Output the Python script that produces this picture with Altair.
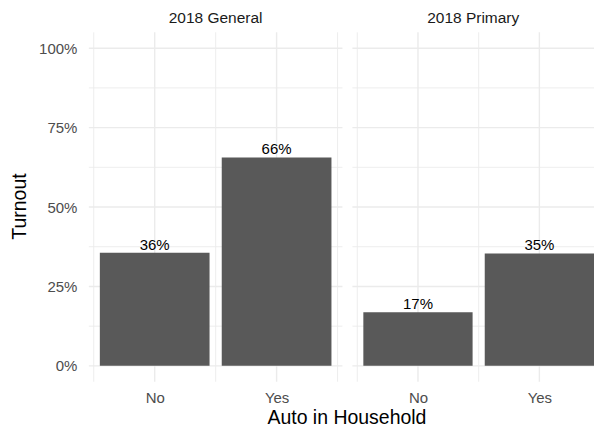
import json
import altair as alt
import pandas as pd

# ---- data ----
elections = ["2018 General", "2018 Primary"]
auto_levels = ["No", "Yes"]
election_col = ["2018 General", "2018 General", "2018 Primary", "2018 Primary"]
auto_col = ["No", "Yes", "No", "Yes"]
turnout = [0.356, 0.656, 0.169, 0.354]

y_major = [0, 0.25, 0.5, 0.75, 1.0]
y_minor = [0.125, 0.375, 0.625, 0.875]
x_major = [1, 2]
x_minor = [0.5, 1.5, 2.5]

FONT = "Liberation Sans"
BAR = "#595959"
GRID = "#EBEBEB"
TICK = "#4D4D4D"

df = pd.DataFrame({"election": election_col, "auto": auto_col, "turnout": turnout})
df["pos"] = df["auto"].map({k: i + 1 for i, k in enumerate(auto_levels)})

label_expr = json.dumps(auto_levels).replace('"', "'") + "[datum.value - 1]"

ymaj_df = pd.DataFrame({"v": y_major})
ymin_df = pd.DataFrame({"v": y_minor})
xmaj_df = pd.DataFrame({"v": x_major})

Y_DOMAIN = [-0.05, 1.05]
H = 350


def panel(name, xdom, width, first):
    xscale = alt.Scale(domain=xdom, nice=False, zero=False)
    yscale = alt.Scale(domain=Y_DOMAIN, nice=False, zero=False)
    xmin_df = pd.DataFrame({"v": [v for v in x_minor if xdom[0] <= v <= xdom[1]]})
    xaxis_kw = dict(values=x_major, labelExpr=label_expr, grid=False, domain=False,
                    ticks=False, tickSize=0, labelFontSize=15, labelColor=TICK,
                    labelFont=FONT, labelPadding=9, labelBaseline="top",
                    labelAlign="center")
    if first:
        xaxis_kw.update(title="Auto in Household", titleFont=FONT, titleFontSize=19.5,
                        titleFontWeight="normal", titleColor="#000000",
                        titleX=258, titleY=42, titleBaseline="alphabetic",
                        titleAlign="center", titleAnchor="start")
    else:
        xaxis_kw.update(title=None)
    xaxis = alt.Axis(**xaxis_kw)

    if first:
        yaxis = alt.Axis(values=y_major, format=".0%", grid=False, domain=False, ticks=False,
                         tickSize=0, labelFontSize=15, labelColor=TICK, labelFont=FONT,
                         labelPadding=12,
                         title="Turnout", titleFont=FONT, titleFontSize=19.5,
                         titleFontWeight="normal", titleColor="#000000",
                         titleX=-63, titleY=H / 2 - 1, titleAngle=270,
                         titleBaseline="alphabetic", titleAlign="center",
                         titleAnchor="start")
    else:
        yaxis = None

    hmaj = alt.Chart(ymaj_df).mark_rule(color=GRID, strokeWidth=1.4).encode(
        y=alt.Y("v:Q", scale=yscale, axis=yaxis))
    hmin = alt.Chart(ymin_df).mark_rule(color=GRID, strokeWidth=0.9).encode(
        y=alt.Y("v:Q", scale=yscale, axis=yaxis))
    vmaj = alt.Chart(xmaj_df).mark_rule(color=GRID, strokeWidth=1.4).encode(
        x=alt.X("v:Q", scale=xscale, axis=xaxis))
    vmin = alt.Chart(xmin_df).mark_rule(color=GRID, strokeWidth=0.9).encode(
        x=alt.X("v:Q", scale=xscale, axis=xaxis))

    base = alt.Chart(df).transform_filter(alt.datum.election == name)
    bars = base.transform_calculate(
        x1="datum.pos - 0.45", x2="datum.pos + 0.45"
    ).mark_bar(color=BAR).encode(
        x=alt.X("x1:Q", scale=xscale, axis=xaxis),
        x2="x2:Q",
        y=alt.Y("turnout:Q", scale=yscale, axis=yaxis),
        y2=alt.datum(0),
    )
    labels = base.mark_text(baseline="alphabetic", dy=-3, fontSize=15, font=FONT,
                            color="#000000").encode(
        x=alt.X("pos:Q", scale=xscale, axis=xaxis),
        y=alt.Y("turnout:Q", scale=yscale, axis=yaxis),
        text=alt.Text("turnout:Q", format=".0%"),
    )
    return alt.layer(hmaj, hmin, vmaj, vmin, bars, labels).properties(
        width=width, height=H,
        title=alt.TitleParams(name, fontSize=15.5, color="#1A1A1A", font=FONT,
                              fontWeight="normal", anchor="middle", offset=-7,
                              baseline="alphabetic"),
    )


p1 = panel(elections[0], [0.46, 2.54], 254, True)
p2 = panel(elections[1], [0.46, 2.45], 242, False)

chart = alt.hconcat(p1, p2, spacing=10, bounds="flush").properties(
    padding={"left": 2, "top": 2, "right": 0, "bottom": 0},
    background="#FFFFFF",
).configure_view(stroke=None)

chart.save("out.html", embed_options={"renderer": "svg", "actions": False})
